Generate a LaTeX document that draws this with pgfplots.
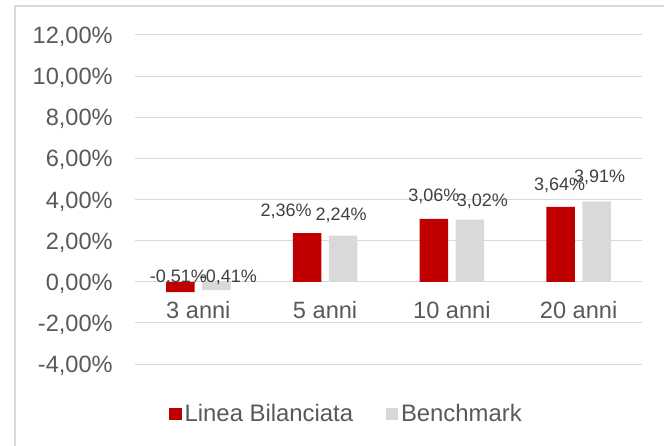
\documentclass[border=0pt]{standalone}
\usepackage{pgfplots}
\usepackage{pgfplotstable}
\pgfplotsset{compat=1.18}
\usepackage{fontspec}
\setmainfont{Liberation Sans}
\definecolor{barred}{HTML}{C00000}
\definecolor{bargray}{HTML}{D9D9D9}
\definecolor{gridgray}{HTML}{D9D9D9}
\definecolor{axtext}{HTML}{595959}
\definecolor{lbltext}{HTML}{404040}
\pgfplotstableread{
x y dx dy
0 -0.51 -2 14.5
1 2.36 -21 21.8
2 3.06 0 22
3 3.64 -1 21.2
}\redtab
\pgfplotstableread{
x y dx dy
0 -0.41 12 12.4
1 2.24 -2 20.7
2 3.02 12.5 18.2
3 3.91 3 24.3
}\graytab
\begin{document}
\begin{tikzpicture}
\useasboundingbox (-101.25pt,-61.5pt) rectangle (396.75pt,273pt);
\draw[gridgray, line width=0.9pt] (-90pt,-80pt) -- (-90pt,268.5pt) -- (420pt,268.5pt);
\begin{axis}[
  at={(0pt,0pt)}, anchor=south west,
  scale only axis, width=380.25pt, height=246.75pt,
  ybar=5.6pt, bar width=21.4pt,
  xmin=-0.5, xmax=3.5, ymin=-4, ymax=12,
  ytick={-4,-2,0,2,4,6,8,10,12},
  xtick={0,1,2,3}, xticklabels={3 anni,5 anni,10 anni,20 anni},
  axis line style={draw=none}, tick style={draw=none},
  ymajorgrids, major grid style={draw=gridgray, line width=0.75pt},
  yticklabel={\pgfmathprintnumber[fixed,fixed zerofill,precision=2,use comma,assume math mode=true]{\tick}\%},
  yticklabel style={anchor=base east, inner sep=0pt, xshift=-16.5pt, yshift=-6.4pt, font=\fontsize{17.7pt}{20pt}\selectfont, text=axtext},
  xticklabel style={anchor=base, inner sep=0pt, yshift=38.5pt, font=\fontsize{17.7pt}{20pt}\selectfont, text=axtext},
  legend columns=2,
  legend style={at={(0.418,-0.152)}, anchor=center, draw=none, fill=none, inner sep=0pt,
    font=\fontsize{17.9pt}{20pt}\selectfont, text=axtext,
    /tikz/every even column/.append style={column sep=22.5pt}},
  legend image code/.code={\fill[#1] (0pt,-4.7pt) rectangle (9.4pt,4.7pt);},
  nodes near coords={\pgfmathprintnumber[fixed,fixed zerofill,precision=2,use comma,assume math mode=true]{\pgfplotspointmeta}\%},
  nodes near coords align=center,
  visualization depends on={\thisrow{dx} \as \dx},
  visualization depends on={\thisrow{dy} \as \dy},
  nodes near coords style={anchor=center, xshift=\dx*0.75pt, yshift=\dy*0.75pt, text=lbltext, font=\fontsize{13.5pt}{16pt}\selectfont, inner sep=0pt},
]
\addplot[fill=barred, draw=none] table[x=x,y=y] {\redtab};
\addlegendentry{Linea Bilanciata}
\addplot[fill=bargray, draw=none] table[x=x,y=y] {\graytab};
\addlegendentry{Benchmark}
\end{axis}
\end{tikzpicture}
\end{document}
